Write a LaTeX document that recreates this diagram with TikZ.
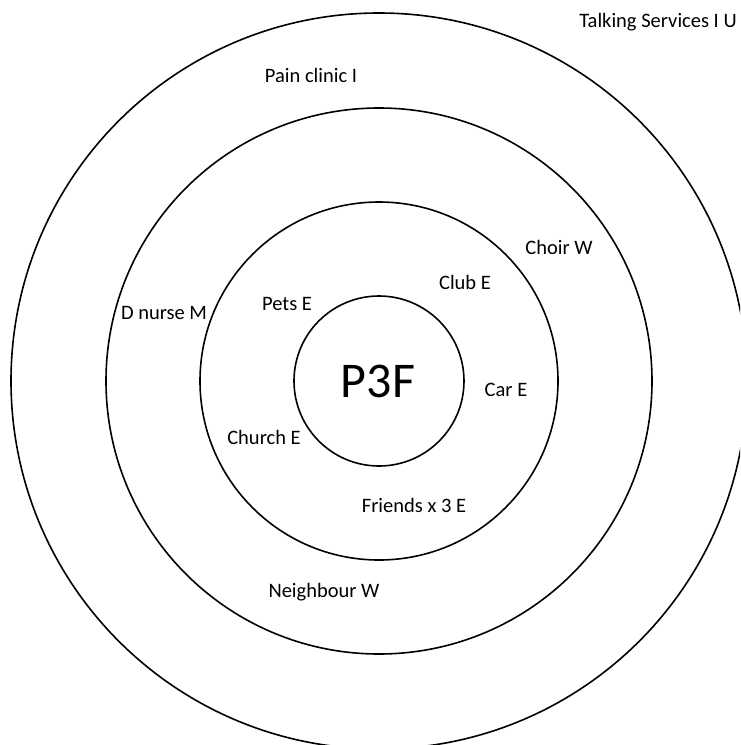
\documentclass[tikz,border=0pt]{standalone}
\usepackage{fontspec}
\setmainfont{Carlito}
\begin{document}
\begin{tikzpicture}[x=1pt,y=-1pt,
  ring/.style={draw=black,line width=1.6pt},
  lbl/.style={inner sep=0pt,font=\fontsize{20.5}{23}\selectfont},
  core/.style={inner sep=0pt,font=\fontsize{50}{54}\selectfont}]
  \useasboundingbox (0,0) rectangle (740,745);
  \begin{scope}
    \clip (0,0) rectangle (740,745);
    \coordinate (c) at (379,381);
    \draw[ring] (c) circle[radius=368];
    \draw[ring] (c) circle[radius=273];
    \draw[ring] (c) circle[radius=179];
    \draw[ring] (c) circle[radius=85];
  \end{scope}
  \node[core] (p3f) at (378,381) {P3F};
  \node[lbl] (talk) at (658,22) {Talking Services I U};
  \node[lbl] (pain) at (311,75) {Pain clinic I};
  \node[lbl] (choir) at (559,247) {Choir W};
  \node[lbl] (club) at (465,282) {Club E};
  \node[lbl] (pets) at (287,304) {Pets E};
  \node[lbl] (dnurse) at (164,313) {D nurse M};
  \node[lbl] (car) at (506,390) {Car E};
  \node[lbl] (church) at (264,437) {Church E};
  \node[lbl] (friends) at (414,505) {Friends x 3 E};
  \node[lbl] (neigh) at (324,592) {Neighbour W};
\end{tikzpicture}
\end{document}
